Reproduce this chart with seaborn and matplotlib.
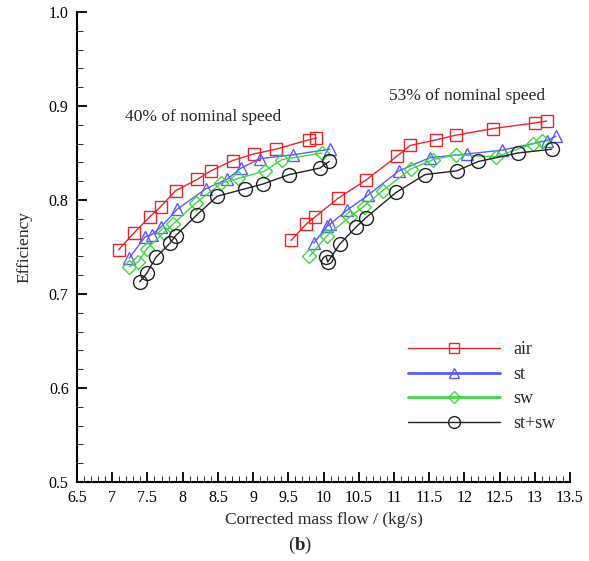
import matplotlib
matplotlib.use("Agg")
import matplotlib.pyplot as plt
from matplotlib.lines import Line2D
from matplotlib.ticker import MultipleLocator
import seaborn as sns
import pandas as pd

# ---- data ----
air_40_x = [7.09, 7.31, 7.53, 7.69, 7.90, 8.21, 8.40, 8.71, 9.01, 9.32, 9.79, 9.90]
air_40_y = [0.747, 0.765, 0.782, 0.793, 0.810, 0.822, 0.831, 0.842, 0.849, 0.854, 0.864, 0.866]
st_40_x = [7.24, 7.47, 7.56, 7.69, 7.92, 8.33, 8.63, 8.83, 9.10, 9.56, 10.09]
st_40_y = [0.738, 0.761, 0.763, 0.771, 0.790, 0.812, 0.822, 0.834, 0.844, 0.848, 0.854]
sw_40_x = [7.24, 7.37, 7.49, 7.73, 7.86, 8.19, 8.55, 8.79, 9.17, 9.41, 9.98]
sw_40_y = [0.729, 0.734, 0.748, 0.765, 0.774, 0.797, 0.818, 0.823, 0.831, 0.843, 0.850]
stsw_40_x = [7.39, 7.49, 7.62, 7.82, 7.90, 8.20, 8.49, 8.89, 9.14, 9.51, 9.95, 10.08]
stsw_40_y = [0.713, 0.722, 0.739, 0.754, 0.762, 0.784, 0.804, 0.812, 0.817, 0.827, 0.834, 0.841]

air_53_x = [9.54, 9.75, 9.88, 10.21, 10.60, 11.05, 11.23, 11.60, 11.88, 12.41, 13.00, 13.17]
air_53_y = [0.757, 0.774, 0.782, 0.802, 0.821, 0.847, 0.858, 0.864, 0.869, 0.876, 0.882, 0.884]
st_53_x = [9.86, 10.05, 10.09, 10.33, 10.63, 11.07, 11.51, 12.04, 12.53, 13.17, 13.30]
st_53_y = [0.754, 0.772, 0.774, 0.789, 0.805, 0.831, 0.845, 0.849, 0.853, 0.863, 0.868]
sw_53_x = [9.80, 10.05, 10.37, 10.57, 10.84, 11.24, 11.56, 11.88, 12.45, 12.98, 13.10]
sw_53_y = [0.740, 0.762, 0.782, 0.793, 0.810, 0.833, 0.843, 0.848, 0.846, 0.860, 0.863]
stsw_53_x = [10.04, 10.06, 10.23, 10.46, 10.60, 11.03, 11.44, 11.89, 12.20, 12.76, 13.24]
stsw_53_y = [0.739, 0.734, 0.753, 0.771, 0.781, 0.808, 0.827, 0.831, 0.841, 0.850, 0.854]

series_names = ["air", "st", "sw", "st+sw"]
speed_labels = ["40% of nominal speed", "53% of nominal speed"]
x_label = "Corrected mass flow / (kg/s)"
y_label = "Efficiency"

# ---- style ----
sns.set_style("white")
plt.rcParams["font.family"] = ["Liberation Serif", "DejaVu Serif"]
plt.rcParams["mathtext.fontset"] = "custom"
plt.rcParams["mathtext.rm"] = "Liberation Serif"
plt.rcParams["mathtext.bf"] = "Liberation Serif:bold"

colors = {"air": "#e8262a", "st": "#5a5aff", "sw": "#3fd83f", "st+sw": "#222222"}
markers = {"air": "s", "st": "^", "sw": "D", "st+sw": "o"}
msizes = {"air": 8.0, "st": 9.0, "sw": 7.0, "st+sw": 10.0}

data = {
    "air": [(air_40_x, air_40_y), (air_53_x, air_53_y)],
    "st": [(st_40_x, st_40_y), (st_53_x, st_53_y)],
    "sw": [(sw_40_x, sw_40_y), (sw_53_x, sw_53_y)],
    "st+sw": [(stsw_40_x, stsw_40_y), (stsw_53_x, stsw_53_y)],
}

fig = plt.figure(figsize=(5.89, 5.61), dpi=100)
ax = fig.add_axes([77 / 589, 79 / 561, 493 / 589, 470 / 561])

for name in series_names:
    for seg, (xs, ys) in enumerate(data[name]):
        df = pd.DataFrame({"x": xs, "y": ys})
        sns.lineplot(data=df, x="x", y="y", ax=ax, sort=False, estimator=None,
                     color=colors[name], lw=1.0, marker=markers[name],
                     markersize=msizes[name], markerfacecolor="none",
                     markeredgecolor=colors[name], markeredgewidth=1.0)

ax.set_xlim(6.5, 13.5)
ax.set_ylim(0.5, 1.0)
ax.xaxis.set_major_locator(MultipleLocator(0.5))
ax.xaxis.set_minor_locator(MultipleLocator(0.1))
ax.yaxis.set_major_locator(MultipleLocator(0.1))
ax.yaxis.set_minor_locator(MultipleLocator(0.02))
ax.xaxis.set_major_formatter(plt.FuncFormatter(lambda v, p: f"{v:g}"))
ax.yaxis.set_major_formatter(plt.FuncFormatter(lambda v, p: f"{v:.1f}"))

for s in ["top", "right"]:
    ax.spines[s].set_visible(False)
for s in ["left", "bottom"]:
    ax.spines[s].set_color("black")
    ax.spines[s].set_linewidth(1.5)

ax.tick_params(axis="both", which="major", direction="in", length=7, width=1.3,
               labelsize=11.5, colors="black", left=True, bottom=True, pad=6)
ax.tick_params(axis="both", which="minor", direction="in", length=4, width=0.7,
               left=True, bottom=True)

ax.set_xlabel(x_label, fontsize=12.5, labelpad=4)
ax.set_ylabel(y_label, fontsize=12.5, labelpad=12)

ax.text(8.29, 0.888, speed_labels[0], fontsize=12.5, ha="center", va="center")
ax.text(12.04, 0.911, speed_labels[1], fontsize=12.5, ha="center", va="center")

handles = []
lw_leg = {"air": 1.0, "st": 2.0, "sw": 2.0, "st+sw": 1.0}
for name in series_names:
    handles.append(Line2D([], [], color=colors[name], lw=lw_leg[name],
                          marker=markers[name], markersize=msizes[name] * 0.85,
                          markerfacecolor="none", markeredgecolor=colors[name],
                          markeredgewidth=1.0))
leg = ax.legend(handles, series_names, loc="upper left",
                bbox_to_anchor=((392 - 77) / 493, (482 - 325) / 470),
                frameon=False, fontsize=13, handlelength=5.1, numpoints=1,
                labelspacing=0.42, handletextpad=0.7)

fig.text(300 / 589, 1 - 545 / 561, r"($\mathbf{b}$)", fontsize=13.5,
         ha="center", va="center")

fig.savefig("out.png", dpi=100)
